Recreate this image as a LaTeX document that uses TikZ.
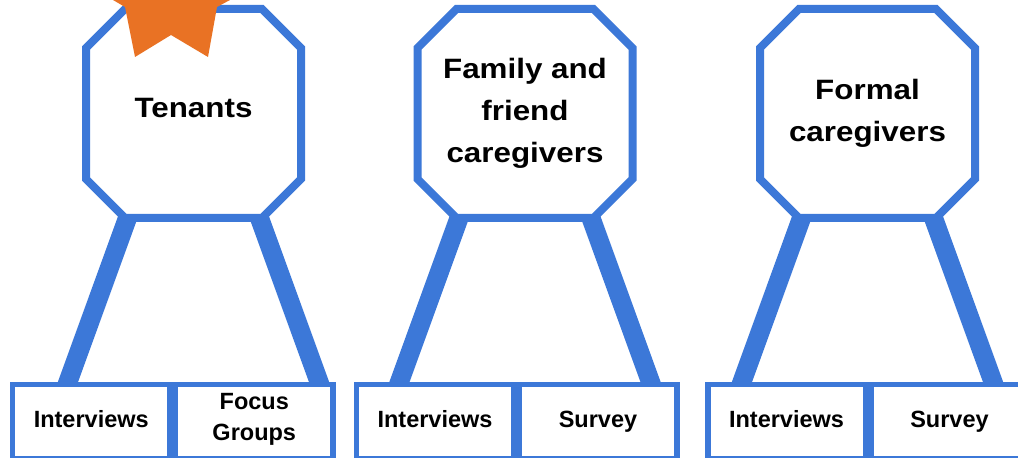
\documentclass[tikz,border=0pt]{standalone}
\usepackage{fontspec}
\setmainfont{Liberation Sans}
\newfontfamily\widesans{Liberation Sans}[FakeStretch=1.12]
\usetikzlibrary{positioning,backgrounds}
\definecolor{cornflower}{HTML}{3C78D8}
\definecolor{badge}{HTML}{E97224}

\begin{document}
\begin{tikzpicture}[x=.5pt,y=-.5pt,
  group/.style={rectangle,outer sep=0pt,inner sep=0pt,minimum width=107.5pt,minimum height=104.5pt,
    align=center,font=\widesans\fontsize{14}{21}\selectfont\bfseries},
  octo/.style={draw=cornflower,line width=4pt,fill=white},
  method/.style={rectangle,draw=cornflower,line width=2.75pt,fill=white,inner sep=0pt,
    minimum width=78.75pt,minimum height=37pt,align=center,font=\fontsize{11.75}{15.5}\selectfont\bfseries,
    execute at begin node=\strut},
  leg/.style={cornflower,line width=9.5pt,shorten <=-6pt,shorten >=-6pt}]
\useasboundingbox (0,0) rectangle (1018,458);
\clip (0,0) rectangle (1018,458);
% the three groups
\node[group,text depth=5.5pt] (ten) at (193.5,113.5) {Tenants};
\node[group] (fam) at (525,113.5) {Family and\\friend\\caregivers};
\node[group] (pro) at (867.5,113.5) {Formal\\caregivers};
\fill[badge] (101,-7)--(125,7)--(135,57)--(171,35)--(208,57)--(217,7)--(243,-7)--(171,-60)--cycle;
% methods
\node[method] (tenI) at (91.25,421.6) {Interviews};
\node[method,right=0pt of tenI] (tenF) {Focus\\Groups};
\node[method] (famI) at (435,421.6) {Interviews};
\node[method,right=0pt of famI] (famS) {Survey};
\node[method] (proI) at (786.5,421.6) {Interviews};
\node[method,right=0pt of proI] (proS) {Survey};
\begin{scope}[on background layer]
\fill[white] (0,0) rectangle (1018,458);
\foreach \g/\a in {ten/tenI,fam/famI,pro/proI}{
  \draw[leg] ([xshift=-33pt]\g.south) -- ([xshift=-62.75pt]\g.south |- \a.north);
  \draw[leg] ([xshift=33pt]\g.south) -- ([xshift=62.75pt]\g.south |- \a.north);
  \path[octo] ([xshift=19.5pt]\g.north west) -- ([xshift=-19.5pt]\g.north east) -- ([yshift=-19.5pt]\g.north east)
    -- ([yshift=19.5pt]\g.south east) -- ([xshift=-19.5pt]\g.south east) -- ([xshift=19.5pt]\g.south west)
    -- ([yshift=19.5pt]\g.south west) -- ([yshift=-19.5pt]\g.north west) -- cycle;}
\end{scope}
\end{tikzpicture}
\end{document}
